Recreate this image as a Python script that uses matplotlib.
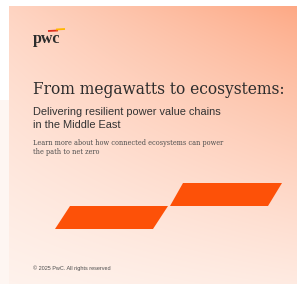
import numpy as np
import matplotlib
matplotlib.use("Agg")
import matplotlib.pyplot as plt
from matplotlib.patches import Polygon, Rectangle

# =========================================
# CONTENIDO
# =========================================

W, H = 297, 286

logo = "pwc"
title = "From megawatts to ecosystems:"
subtitle = ["Delivering resilient power value chains", "in the Middle East"]
blurb = ["Learn more about how connected ecosystems can power", "the path to net zero"]
copyright_txt = "\u00a9 2025 PwC. All rights reserved"

# parallelogramos (x, y) en pixeles
bar_low = [(55, 229), (70, 206), (168, 206), (153, 229)]
bar_high = [(170, 206), (183, 183), (282, 183), (268, 206)]

# =========================================
# FIGURA
# =========================================

fig = plt.figure(figsize=(W / 100, H / 100), dpi=100)
ax = fig.add_axes([0, 0, 1, 1])
ax.set_xlim(0, W)
ax.set_ylim(H, 0)
ax.axis("off")
fig.patch.set_facecolor("white")

# fondo degradado
x0, x1, y0, y1 = 9, W, 6, 284
xs = np.linspace(0, 1, x1 - x0)
ys = np.linspace(0, 1, y1 - y0)
gx, gy = np.meshgrid(xs, ys)
tl, tr, bl, br = 0.45, 1.0, 0.06, 0.16
gyv = gy ** 0.8
t = (tl * (1 - gx) + tr * gx) * (1 - gyv) + (bl * (1 - gx) + br * gx) * gyv
white = np.array([255, 247, 243]) / 255
salmon = np.array([253, 168, 132]) / 255
img = white + t[..., None] * (salmon - white)
ax.imshow(img, extent=(x0, x1, y1, y0), aspect="auto", zorder=0)

ax.add_patch(Rectangle((0, 100), x0, y1 - 100, color="#fef6f2", lw=0, zorder=0))

orange = "#fd5108"
ax.add_patch(Polygon(bar_low, closed=True, color=orange, lw=0, zorder=2))
ax.add_patch(Polygon(bar_high, closed=True, color=orange, lw=0, zorder=2))

# logo
ax.text(33, 39, logo, fontsize=11.5, fontweight="bold", family="Liberation Serif",
        color="#2d2d2d", va="center", ha="left")
ax.plot([48, 58], [31, 30.5], color="#e0301e", lw=1.3, solid_capstyle="butt")
ax.plot([56, 65], [29.5, 29], color="#ffb600", lw=1.3, solid_capstyle="butt")

# textos
ax.text(33, 90, title, fontsize=11.2, family="DejaVu Serif", color="#2d2d2d",
        va="center", ha="left")
for i, line in enumerate(subtitle):
    ax.text(33, 112 + i * 12.5, line, fontsize=7.9, family="Liberation Sans",
            color="#333333", va="center", ha="left")
for i, line in enumerate(blurb):
    ax.text(33, 143 + i * 9, line, fontsize=4.7, family="DejaVu Serif",
            color="#4d4d4d", va="center", ha="left")
ax.text(33, 268, copyright_txt, fontsize=3.95, family="Liberation Sans",
        color="#4d4d4d", va="center", ha="left")

fig.savefig("out.png", dpi=100)
